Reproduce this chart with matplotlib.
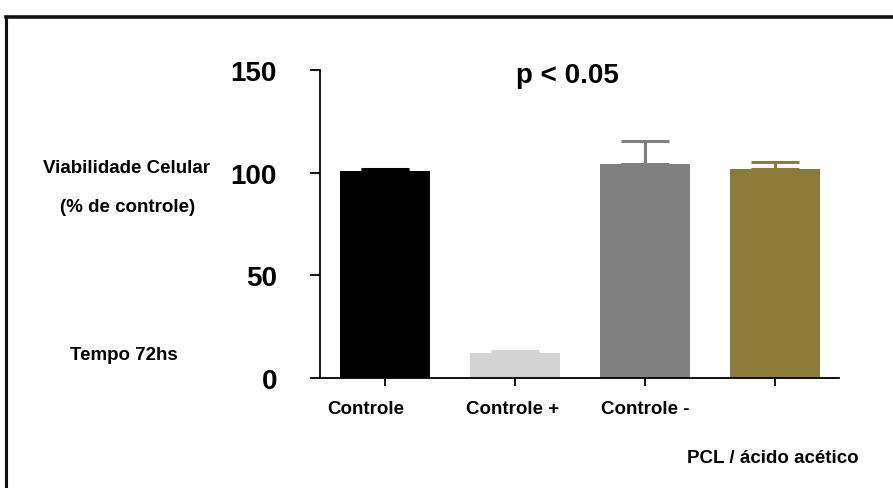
import matplotlib.pyplot as plt
from matplotlib.lines import Line2D

# data
categories = ['Controle', 'Controle +', 'Controle -', 'PCL / ácido acético']
means = [101, 12, 104, 102]
errors = [1, 1, 11.5, 3]
colors = ['#000000', '#d3d3d3', '#808080', '#8b7a3a']
y_ticks = [0, 50, 100, 150]

plt.rcParams['font.family'] = ['Liberation Sans', 'DejaVu Sans']
plt.rcParams['font.weight'] = 'bold'

fig = plt.figure(figsize=(8.93, 4.89), dpi=100)
ax = fig.add_axes([0.3583, 0.2249, 0.5812, 0.6299])

x = list(range(len(categories)))
ax.bar(x, means, width=0.69, color=colors, edgecolor='none', zorder=2)
for i in x:
    ax.errorbar(i, means[i], yerr=[[0], [errors[i]]], fmt='none', ecolor=colors[i],
                elinewidth=2.2, capsize=17, capthick=2.2, zorder=1)

ax.set_xlim(-0.5, 3.49)
ax.set_ylim(0, 150)
ax.set_yticks(y_ticks)
ax.set_yticklabels([str(v) for v in y_ticks], fontsize=20, fontweight='bold')
ax.tick_params(axis='y', length=7, width=1.3, pad=24)
ax.set_xticks(x)
ax.set_xticklabels([])
ax.tick_params(axis='x', length=6, width=1.3)

for side in ['top', 'right']:
    ax.spines[side].set_visible(False)
for side in ['left', 'bottom']:
    ax.spines[side].set_linewidth(1.3)

# category labels under the first three bars
small = 13.5
label_shift = [-0.15, -0.02, 0.0]
for i in range(3):
    ax.text(x[i] + label_shift[i], -15, categories[i], ha='center', va='center',
            fontsize=small, fontweight='bold', clip_on=False)
fig.text(0.865, 0.062, categories[3], ha='center', va='center', fontsize=small, fontweight='bold')

# side texts
fig.text(0.142, 0.656, 'Viabilidade Celular', ha='center', va='center', fontsize=small, fontweight='bold')
fig.text(0.143, 0.575, '(% de controle)', ha='center', va='center', fontsize=small, fontweight='bold')
fig.text(0.139, 0.272, 'Tempo 72hs', ha='center', va='center', fontsize=small, fontweight='bold')
fig.text(0.635, 0.845, 'p < 0.05', ha='center', va='center', fontsize=20, fontweight='bold')

# black frame on the top and left of the image
fig.add_artist(Line2D([0.0067, 1.0], [0.9625, 0.9625], color='#111111', lw=2.6))
fig.add_artist(Line2D([0.0067, 0.0067], [0.0, 0.9625], color='#111111', lw=2.2))

fig.savefig('out.png', dpi=100)
